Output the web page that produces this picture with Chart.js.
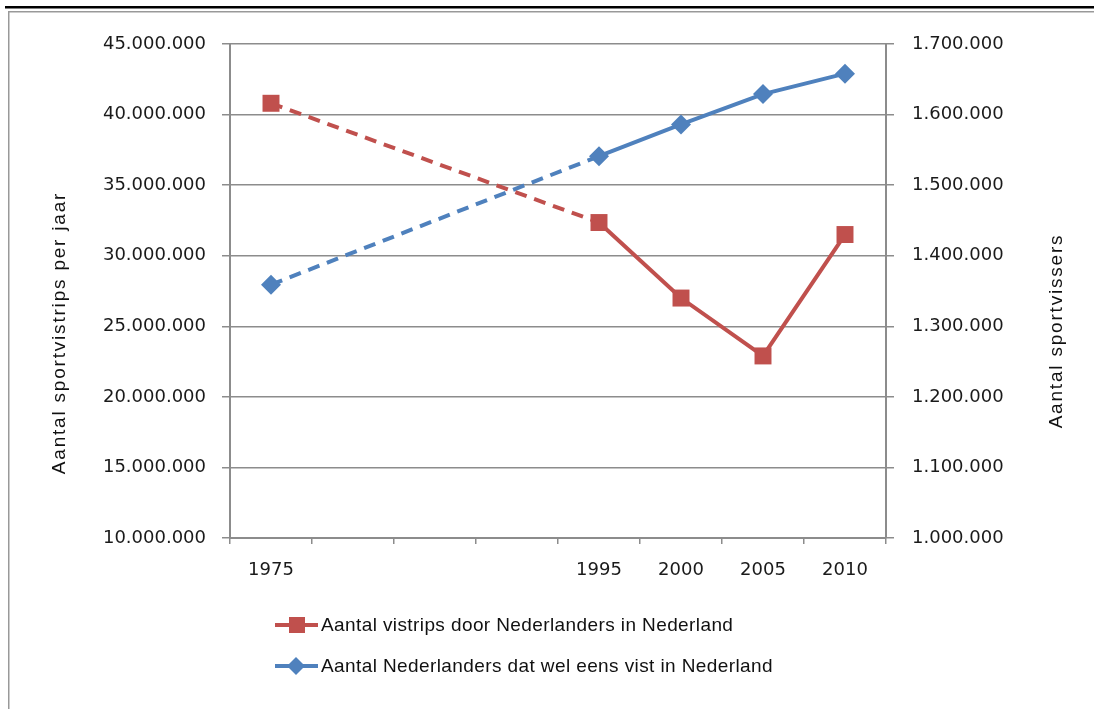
<!DOCTYPE html>
<html>
<head>
<meta charset="utf-8">
<script src="https://cdn.jsdelivr.net/npm/chart.js@4/dist/chart.umd.min.js"></script>
<style>
  html, body { margin: 0; padding: 0; background: #fff; }
  #wrap { position: relative; width: 1094px; height: 709px; }
</style>
</head>
<body>
<div id="wrap"><canvas id="grafiek" width="1094" height="709"></canvas></div>
<script>
const jaren = ['1975', '1980', '1985', '1990', '1995', '2000', '2005', '2010'];
const jaarLabels = ['1975', '', '', '', '1995', '2000', '2005', '2010']; // tussenliggende jaren zonder label
const vistrips = [40800000, null, null, null, 32350000, 27000000, 22900000, 31500000];
const sportvissers = [1359000, null, null, null, 1541000, 1586000, 1629000, 1658000];
const legendaTeksten = ['Aantal vistrips door Nederlanders in Nederland', 'Aantal Nederlanders dat wel eens vist in Nederland'];

const rood = '#C0504D';
const blauw = '#4F81BD';
const grijs = '#8c8c8c';
const tickFont = { family: 'DejaVu Sans', size: 18 };

function puntjes(v) {
  return String(v).replace(/\B(?=(\d{3})+(?!\d))/g, '.');
}

// gaten overbruggen met een streeplijn
const gestreept = ctx => (ctx.p0.skip || ctx.p1.skip) ? [12, 8] : undefined;

function asTitel(c, tekst, x, y) {
  c.save();
  c.fillStyle = '#111';
  c.font = '19px "Liberation Sans"';
  c.letterSpacing = '1.8px';
  c.textAlign = 'center';
  c.textBaseline = 'middle';
  c.translate(x, y);
  c.rotate(-Math.PI / 2);
  c.fillText(tekst, 0, 0);
  c.restore();
}

const randEnLegenda = {
  id: 'randEnLegenda',
  beforeDraw(chart) {
    const c = chart.ctx;
    c.save();
    c.fillStyle = '#fff';
    c.fillRect(0, 0, chart.width, chart.height);
    c.fillStyle = '#000';
    c.fillRect(5, 6, chart.width - 5, 2.5);
    c.fillStyle = '#999';
    c.fillRect(8, 11, chart.width - 8, 1.5);
    c.fillRect(8, 11, 1.5, chart.height - 11);
    c.restore();
  },
  afterDraw(chart) {
    const c = chart.ctx;
    asTitel(c, 'Aantal sportvistrips per jaar', 60, 333);
    asTitel(c, 'Aantal sportvissers', 1057, 331);

    // legenda, onder elkaar
    const rijen = [
      { y: 625, kleur: rood, vorm: 'rect' },
      { y: 666, kleur: blauw, vorm: 'ruit' }
    ];
    c.save();
    rijen.forEach((r, i) => {
      c.strokeStyle = r.kleur;
      c.lineWidth = 4;
      c.beginPath();
      c.moveTo(275, r.y);
      c.lineTo(318, r.y);
      c.stroke();
      c.fillStyle = r.kleur;
      c.beginPath();
      if (r.vorm === 'rect') {
        c.rect(289, r.y - 8, 16, 16);
      } else {
        c.moveTo(296, r.y - 9);
        c.lineTo(305, r.y);
        c.lineTo(296, r.y + 9);
        c.lineTo(287, r.y);
        c.closePath();
      }
      c.fill();
      c.fillStyle = '#111';
      c.font = '19px "Liberation Sans"';
      c.letterSpacing = '0.4px';
      c.textAlign = 'left';
      c.textBaseline = 'middle';
      c.fillText(legendaTeksten[i], 321, r.y + 1);
    });
    c.restore();
  }
};

new Chart(document.getElementById('grafiek'), {
  type: 'line',
  data: {
    labels: jaren,
    datasets: [{
      label: legendaTeksten[0],
      data: vistrips,
      yAxisID: 'y',
      borderColor: rood,
      backgroundColor: rood,
      borderWidth: 4,
      pointStyle: 'rect',
      pointRadius: 12,
      pointHoverRadius: 12,
      pointBorderWidth: 0,
      spanGaps: true,
      tension: 0,
      segment: { borderDash: gestreept }
    }, {
      label: legendaTeksten[1],
      data: sportvissers,
      yAxisID: 'y1',
      borderColor: blauw,
      backgroundColor: blauw,
      borderWidth: 4,
      pointStyle: 'rectRot',
      pointRadius: 10,
      pointHoverRadius: 10,
      pointBorderWidth: 0,
      spanGaps: true,
      tension: 0,
      segment: { borderDash: gestreept }
    }]
  },
  options: {
    responsive: false,
    animation: false,
    layout: { padding: { left: 10, top: 44, right: 0, bottom: 0 } },
    plugins: {
      legend: { display: false },
      tooltip: { enabled: false }
    },
    scales: {
      x: {
        offset: true,
        grid: { offset: true, drawOnChartArea: false, drawTicks: true, tickLength: 6, color: grijs, lineWidth: 1.5 },
        border: { color: grijs, width: 2 },
        ticks: {
          font: tickFont, color: '#1a1a1a', padding: 16, maxRotation: 0, autoSkip: false,
          callback: (v, i) => jaarLabels[i]
        },
        afterFit: s => { s.height = 171; }
      },
      y: {
        position: 'left',
        min: 10000000,
        max: 45000000,
        grid: { color: grijs, lineWidth: 1.5, tickLength: 8 },
        border: { color: grijs, width: 2 },
        ticks: { stepSize: 5000000, font: tickFont, color: '#1a1a1a', padding: 16, callback: v => puntjes(v) },
        afterFit: s => { s.width = 220; }
      },
      y1: {
        position: 'right',
        min: 1000000,
        max: 1700000,
        grid: { drawOnChartArea: false, color: grijs, lineWidth: 1.5, tickLength: 8 },
        border: { color: grijs, width: 2 },
        ticks: { stepSize: 100000, font: tickFont, color: '#1a1a1a', padding: 18, callback: v => puntjes(v) },
        afterFit: s => { s.width = 208; }
      }
    }
  },
  plugins: [randEnLegenda]
});
</script>
</body>
</html>
